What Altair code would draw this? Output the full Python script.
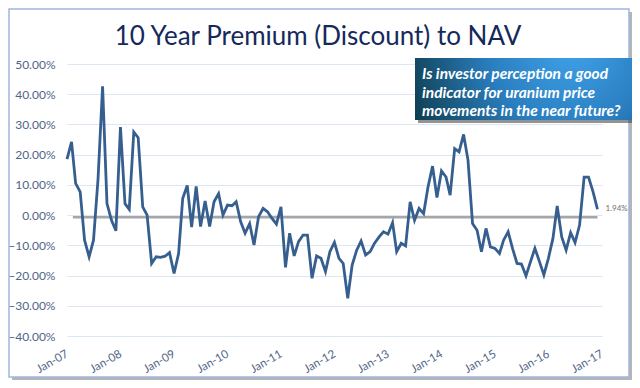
import altair as alt
import pandas as pd

TITLE = "10 Year Premium (Discount) to NAV"
CALLOUT = ["Is investor perception a good",
           "indicator for uranium price",
           "movements in the near future?"]
START = "2007-01-01"
# monthly premium (discount) to NAV in percent, Jan-07 .. Dec-16
VALUES = [18.5, 24.2, 10.5, 7.7, -8.3, -13.8, -8.3, 12.0, 42.6, 3.8, -1.7, -5.2,
          29.1, 3.8, 1.9, 27.5, 25.6, 2.7, 0.0, -16.0, -13.8, -14.0, -13.6, -12.4,
          -19.3, -12.7, 5.5, 9.8, -4.0, 9.5, -3.8, 4.7, -3.8, 4.4, 7.1, 0.0,
          3.3, 3.1, 4.4, -2.2, -6.0, -2.8, -9.9, -0.5, 2.2, 1.1, -1.1, -3.0,
          2.7, -17.3, -6.0, -13.5, -8.8, -6.6, -6.6, -20.9, -13.5, -14.3, -18.7, -12.1,
          -9.0, -14.3, -16.0, -27.5, -16.5, -11.6, -8.6, -13.2, -12.1, -9.3, -7.2, -5.5,
          -6.3, -2.5, -12.1, -9.3, -10.2, 4.4, -1.7, 2.2, 0.5, 9.3, 16.2, 5.8,
          14.6, 12.6, 6.6, 22.0, 20.9, 26.7, 18.2, -2.8, -5.0, -12.1, -4.4, -10.5,
          -11.0, -12.7, -8.3, -5.5, -11.0, -16.0, -16.2, -20.1, -15.4, -11.0, -15.4, -19.8,
          -14.3, -7.7, 3.0, -7.2, -11.6, -5.8, -9.1, -3.3, 12.6, 12.6, 7.7, 1.94]
YEAR_TICKS = list(range(2007, 2018))
Y_TICKS = [-0.4, -0.3, -0.2, -0.1, 0.0, 0.1, 0.2, 0.3, 0.4, 0.5]
REF_LEVEL = -0.007
REF_START, REF_END = "2007-02-10T00:00:00", "2016-12-01T00:00:00"
LAST_LABEL = "1.94%"

months = pd.date_range(START, periods=len(VALUES), freq="MS").strftime("%Y-%m-%dT00:00:00").tolist()
df = pd.DataFrame({"date": months, "value": [v / 100 for v in VALUES]})

W, H = 535, 272
FONT = "Lato"
LABEL_COLOR = "#4f6588"

x_scale = alt.Scale(domain=[alt.DateTime(year=2007, month=1, date=1),
                            alt.DateTime(year=2017, month=1, date=1)])
y_scale = alt.Scale(domain=[-0.4, 0.5], nice=False, zero=False)

x_axis = alt.Axis(values=[alt.DateTime(year=y, month=1, date=1) for y in YEAR_TICKS],
                  format="%b-%y", labelAngle=-30, labelAlign="right", labelBaseline="middle",
                  labelPadding=17, ticks=False, domain=False, grid=False, title=None,
                  labelFont=FONT, labelFontSize=11.5, labelColor=LABEL_COLOR,
                  labelBound=False, labelOverlap=False)
y_axis = alt.Axis(values=Y_TICKS, format=".2%", ticks=False, domain=False, grid=True,
                  gridColor="#dde7f3", gridWidth=1, title=None, labelPadding=12,
                  labelFont=FONT, labelFontSize=12, labelColor=LABEL_COLOR,
                  labelOverlap=False, labelBound=False)

X_ENC = lambda f: alt.X(f, scale=x_scale, axis=x_axis)
Y_ENC = lambda f: alt.Y(f, scale=y_scale, axis=y_axis)

one = alt.Data(values=[{}])

shadow_r = alt.Chart(one).mark_rect(fill="#b5b5b5").encode(
    x=alt.value(562), x2=alt.value(565), y=alt.value(-52), y2=alt.value(316))
shadow_b = alt.Chart(one).mark_rect(fill="#b5b5b5").encode(
    x=alt.value(-55), x2=alt.value(565), y=alt.value(313), y2=alt.value(316))
frame = alt.Chart(one).mark_rect(fill=None, filled=False, stroke="#9fb7de", strokeWidth=1.5).encode(
    x=alt.value(-58), x2=alt.value(562), y=alt.value(-55), y2=alt.value(313))

title = alt.Chart(one).mark_text(text=TITLE, font=FONT, fontSize=26, color="#15295a",
                                 align="center", baseline="middle").encode(
    x=alt.value(251), y=alt.value(-27))

ref = alt.Chart(pd.DataFrame({"a": [REF_START], "b": [REF_END], "v": [REF_LEVEL]})).mark_rule(
    color="#a6a6a6", strokeWidth=2.5).encode(
    x=X_ENC("a:T"), x2="b:T", y=Y_ENC("v:Q"))

line = alt.Chart(df).mark_line(color="#365f8f", strokeWidth=2.8).encode(
    x=X_ENC("date:T"), y=Y_ENC("value:Q"))

last = alt.Chart(df.tail(1)).mark_text(text=LAST_LABEL, align="left", dx=8, font=FONT,
                                        fontSize=8, color="#707070").encode(
    x=X_ENC("date:T"), y=Y_ENC("value:Q"))

box_shadow = alt.Chart(one).mark_rect(fill="#3a3a3a", opacity=0.55).encode(
    x=alt.value(351), x2=alt.value(566), y=alt.value(-4), y2=alt.value(59))
grad = alt.Gradient(gradient="radial", x1=0.72, y1=0.3, r1=0.0, x2=0.72, y2=0.3, r2=0.85,
                    stops=[alt.GradientStop(offset=0, color="#3fa2ea"),
                           alt.GradientStop(offset=0.45, color="#2a7ebf"),
                           alt.GradientStop(offset=1, color="#0b3540")])
box = alt.Chart(one).mark_rect(fill=grad).encode(
    x=alt.value(348), x2=alt.value(565), y=alt.value(-6), y2=alt.value(56))
callout = alt.Chart(one).mark_text(text=CALLOUT, font=FONT, fontSize=15.5, fontStyle="italic",
                                   fontWeight="bold", color="white", align="left",
                                   baseline="middle", lineHeight=18.5).encode(
    x=alt.value(355), y=alt.value(10))

chart = alt.layer(shadow_r, shadow_b, frame, title, ref, line, last, box_shadow, box, callout).properties(
    width=W, height=H,
    autosize=alt.AutoSizeParams(type="none"),
    padding={"left": 59, "top": 56, "right": 30, "bottom": 44},
    background="white",
).configure_view(stroke=None)

chart.save("out.html", embed_options={"renderer": "svg", "actions": False})
